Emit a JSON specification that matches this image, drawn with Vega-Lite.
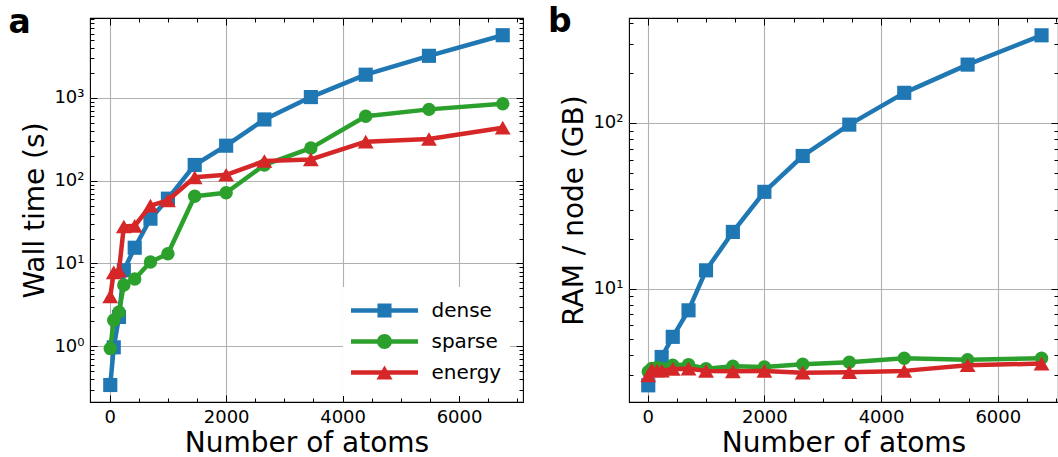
{
  "$schema": "https://vega.github.io/schema/vega-lite/v6.json",
  "padding": {"left": 7, "top": 4, "right": 0, "bottom": 0},
  "bounds": "flush",
  "spacing": 106,
  "datasets": {
    "wall": [
      {"series": "dense", "atoms": 10, "value": 0.34},
      {"series": "dense", "atoms": 70, "value": 0.97},
      {"series": "dense", "atoms": 160, "value": 2.26},
      {"series": "dense", "atoms": 243, "value": 8.3},
      {"series": "dense", "atoms": 430, "value": 15.5},
      {"series": "dense", "atoms": 700, "value": 34.8},
      {"series": "dense", "atoms": 1000, "value": 60.7},
      {"series": "dense", "atoms": 1460, "value": 155},
      {"series": "dense", "atoms": 2000, "value": 265},
      {"series": "dense", "atoms": 2657, "value": 550},
      {"series": "dense", "atoms": 3455, "value": 1025},
      {"series": "dense", "atoms": 4397, "value": 1910},
      {"series": "dense", "atoms": 5483, "value": 3230},
      {"series": "dense", "atoms": 6750, "value": 5730},
      {"series": "sparse", "atoms": 10, "value": 0.94},
      {"series": "sparse", "atoms": 70, "value": 2.06},
      {"series": "sparse", "atoms": 160, "value": 2.6},
      {"series": "sparse", "atoms": 243, "value": 5.5},
      {"series": "sparse", "atoms": 430, "value": 6.5},
      {"series": "sparse", "atoms": 700, "value": 10.4},
      {"series": "sparse", "atoms": 1000, "value": 13.1},
      {"series": "sparse", "atoms": 1460, "value": 65},
      {"series": "sparse", "atoms": 2000, "value": 71.6},
      {"series": "sparse", "atoms": 2657, "value": 155},
      {"series": "sparse", "atoms": 3455, "value": 248},
      {"series": "sparse", "atoms": 4397, "value": 600},
      {"series": "sparse", "atoms": 5483, "value": 728},
      {"series": "sparse", "atoms": 6750, "value": 850},
      {"series": "energy", "atoms": 10, "value": 4.0},
      {"series": "energy", "atoms": 70, "value": 7.8},
      {"series": "energy", "atoms": 160, "value": 8.2},
      {"series": "energy", "atoms": 243, "value": 28},
      {"series": "energy", "atoms": 430, "value": 28.5},
      {"series": "energy", "atoms": 700, "value": 50},
      {"series": "energy", "atoms": 1000, "value": 58},
      {"series": "energy", "atoms": 1460, "value": 110},
      {"series": "energy", "atoms": 2000, "value": 118},
      {"series": "energy", "atoms": 2657, "value": 173},
      {"series": "energy", "atoms": 3455, "value": 181},
      {"series": "energy", "atoms": 4397, "value": 296},
      {"series": "energy", "atoms": 5483, "value": 319},
      {"series": "energy", "atoms": 6750, "value": 437}
    ],
    "ram": [
      {"series": "dense", "atoms": 10, "value": 2.61},
      {"series": "dense", "atoms": 240, "value": 3.87},
      {"series": "dense", "atoms": 430, "value": 5.12},
      {"series": "dense", "atoms": 700, "value": 7.4},
      {"series": "dense", "atoms": 1000, "value": 12.9},
      {"series": "dense", "atoms": 1460, "value": 22.0},
      {"series": "dense", "atoms": 2000, "value": 38.4},
      {"series": "dense", "atoms": 2657, "value": 63.2},
      {"series": "dense", "atoms": 3455, "value": 97.7},
      {"series": "dense", "atoms": 4397, "value": 152},
      {"series": "dense", "atoms": 5483, "value": 225},
      {"series": "dense", "atoms": 6750, "value": 338},
      {"series": "sparse", "atoms": 10, "value": 3.15},
      {"series": "sparse", "atoms": 70, "value": 3.3},
      {"series": "sparse", "atoms": 160, "value": 3.35},
      {"series": "sparse", "atoms": 243, "value": 3.3},
      {"series": "sparse", "atoms": 430, "value": 3.45},
      {"series": "sparse", "atoms": 700, "value": 3.48},
      {"series": "sparse", "atoms": 1000, "value": 3.29},
      {"series": "sparse", "atoms": 1460, "value": 3.4},
      {"series": "sparse", "atoms": 2000, "value": 3.37},
      {"series": "sparse", "atoms": 2657, "value": 3.5},
      {"series": "sparse", "atoms": 3455, "value": 3.6},
      {"series": "sparse", "atoms": 4397, "value": 3.8},
      {"series": "sparse", "atoms": 5483, "value": 3.72},
      {"series": "sparse", "atoms": 6750, "value": 3.8},
      {"series": "energy", "atoms": 10, "value": 3.0},
      {"series": "energy", "atoms": 70, "value": 3.25},
      {"series": "energy", "atoms": 160, "value": 3.2},
      {"series": "energy", "atoms": 243, "value": 3.2},
      {"series": "energy", "atoms": 430, "value": 3.28},
      {"series": "energy", "atoms": 700, "value": 3.29},
      {"series": "energy", "atoms": 1000, "value": 3.19},
      {"series": "energy", "atoms": 1460, "value": 3.17},
      {"series": "energy", "atoms": 2000, "value": 3.19},
      {"series": "energy", "atoms": 2657, "value": 3.11},
      {"series": "energy", "atoms": 3455, "value": 3.13},
      {"series": "energy", "atoms": 4397, "value": 3.19},
      {"series": "energy", "atoms": 5483, "value": 3.45},
      {"series": "energy", "atoms": 6750, "value": 3.53}
    ]
  },
  "hconcat": [
    {
      "width": 433,
      "height": 384,
      "data": {"name": "wall"},
      "resolve": {"axis": {"x": "independent", "y": "independent"}},
      "layer": [
        {
          "transform": [{"filter": "datum.series === 'dense'"}],
          "mark": {"type": "line", "strokeWidth": 4.5, "strokeJoin": "round"},
          "encoding": {
            "x": {"field": "atoms", "type": "quantitative", "scale": {"domain": [-338, 7098], "nice": false, "zero": false},
              "axis": {"orient": "bottom", "values": [0,500,1000,1500,2000,2500,3000,3500,4000,4500,5000,5500,6000,6500,7000],
                "labelExpr": "datum.value % 2000 === 0 ? '' + datum.value : ''",
                "tickSize": {"condition": {"test": "datum.value % 2000 === 0", "value": -7}, "value": -4},
                "grid": true,
                "gridOpacity": {"condition": {"test": "datum.value % 2000 === 0", "value": 1}, "value": 0},
                "labelPadding": 13, "title": "Number of atoms", "titlePadding": 0}},
            "y": {"field": "value", "type": "quantitative", "scale": {"type": "log", "domain": [0.212, 9250], "nice": false},
              "axis": {"orient": "left", "values": [0.3,0.4,0.5,0.6,0.7,0.8,0.9,1,2,3,4,5,6,7,8,9,10,20,30,40,50,60,70,80,90,100,200,300,400,500,600,700,800,900,1000,2000,3000,4000,5000,6000,7000,8000,9000],
                "labelExpr": "datum.value == 1 ? '10⁰' : datum.value == 10 ? '10¹' : datum.value == 100 ? '10²' : datum.value == 1000 ? '10³' : ''",
                "tickSize": {"condition": {"test": "datum.value == 1 || datum.value == 10 || datum.value == 100 || datum.value == 1000", "value": -7}, "value": -4},
                "grid": true,
                "gridOpacity": {"condition": {"test": "datum.value == 1 || datum.value == 10 || datum.value == 100 || datum.value == 1000", "value": 1}, "value": 0},
                "labelPadding": 13, "title": "Wall time (s)", "titlePadding": 4}},
            "color": {"field": "series", "type": "nominal",
              "scale": {"domain": ["dense", "sparse", "energy"], "range": ["#1f77b4", "#2ca02c", "#d62728"]},
              "legend": {"orient": "none", "legendX": 253, "legendY": 269, "padding": 8, "fillColor": "white", "title": null,
                "symbolSize": 4489, "symbolStrokeWidth": 0, "labelFontSize": 20, "labelFont": "DejaVu Sans", "labelColor": "black",
                "labelOffset": 13.5, "clipHeight": 31, "rowPadding": 0,
                "encode": {"symbols": {"update": {
                  "shape": {"signal": "datum.value === 'dense' ? 'M-1,-0.067H1V0.067H-1Z M-0.21,-0.21H0.21V0.21H-0.21Z' : datum.value === 'sparse' ? 'M-1,-0.067H1V0.067H-1Z M0.224,0A0.224,0.224,0,1,1,-0.224,0A0.224,0.224,0,1,1,0.224,0Z' : 'M-1,-0.067H1V0.067H-1Z M0,-0.21L0.24,0.21L-0.24,0.21Z'"},
                  "fill": {"signal": "datum.value === 'dense' ? '#1f77b4' : datum.value === 'sparse' ? '#2ca02c' : '#d62728'"},
                  "stroke": {"value": "transparent"},
                  "size": {"value": 4489}}}}}}
          }
        },
        {
          "transform": [{"filter": "datum.series === 'dense'"}],
          "mark": {"type": "point", "shape": "square", "filled": true, "size": 200, "opacity": 1, "color": "#1f77b4", "strokeWidth": 0},
          "encoding": {
            "x": {"field": "atoms", "type": "quantitative", "scale": {"domain": [-338, 7098], "nice": false, "zero": false},
              "axis": {"orient": "top", "values": [0,500,1000,1500,2000,2500,3000,3500,4000,4500,5000,5500,6000,6500,7000],
                "labels": false, "grid": false,
                "title": "a", "titleX": -82, "titleY": 14, "titleAlign": "left", "titleBaseline": "alphabetic", "titleAngle": 0,
                "titleFontSize": 33, "titleFontWeight": "bold", "titlePadding": 0,
                "tickSize": {"condition": {"test": "datum.value % 2000 === 0", "value": -7}, "value": -4}}},
            "y": {"field": "value", "type": "quantitative", "scale": {"type": "log", "domain": [0.212, 9250], "nice": false},
              "axis": {"orient": "right", "values": [0.3,0.4,0.5,0.6,0.7,0.8,0.9,1,2,3,4,5,6,7,8,9,10,20,30,40,50,60,70,80,90,100,200,300,400,500,600,700,800,900,1000,2000,3000,4000,5000,6000,7000,8000,9000],
                "labels": false, "grid": false, "title": null,
                "tickSize": {"condition": {"test": "datum.value == 1 || datum.value == 10 || datum.value == 100 || datum.value == 1000", "value": -7}, "value": -4}}}
          }
        },
        {
          "transform": [{"filter": "datum.series === 'sparse'"}],
          "mark": {"type": "line", "strokeWidth": 4.5, "strokeJoin": "round", "color": "#2ca02c"},
          "encoding": {
            "x": {"field": "atoms", "type": "quantitative", "axis": null},
            "y": {"field": "value", "type": "quantitative", "axis": null}
          }
        },
        {
          "transform": [{"filter": "datum.series === 'sparse'"}],
          "mark": {"type": "point", "shape": "circle", "filled": true, "size": 180, "opacity": 1, "color": "#2ca02c", "strokeWidth": 0},
          "encoding": {
            "x": {"field": "atoms", "type": "quantitative", "axis": null},
            "y": {"field": "value", "type": "quantitative", "axis": null}
          }
        },
        {
          "transform": [{"filter": "datum.series === 'energy'"}],
          "mark": {"type": "line", "strokeWidth": 4.5, "strokeJoin": "round", "color": "#d62728"},
          "encoding": {
            "x": {"field": "atoms", "type": "quantitative", "axis": null},
            "y": {"field": "value", "type": "quantitative", "axis": null}
          }
        },
        {
          "transform": [{"filter": "datum.series === 'energy'"}],
          "mark": {"type": "point", "shape": "triangle-up", "filled": true, "size": 250, "opacity": 1, "color": "#d62728", "strokeWidth": 0},
          "encoding": {
            "x": {"field": "atoms", "type": "quantitative", "axis": null},
            "y": {"field": "value", "type": "quantitative", "axis": null}
          }
        }
      ]
    },
    {
      "width": 429,
      "height": 384,
      "data": {"name": "ram"},
      "resolve": {"axis": {"x": "independent", "y": "independent"}},
      "layer": [
        {
          "transform": [{"filter": "datum.series === 'dense'"}],
          "mark": {"type": "line", "strokeWidth": 4.5, "strokeJoin": "round", "color": "#1f77b4"},
          "encoding": {
            "x": {"field": "atoms", "type": "quantitative", "scale": {"domain": [-320, 7032], "nice": false, "zero": false},
              "axis": {"orient": "bottom", "values": [0,500,1000,1500,2000,2500,3000,3500,4000,4500,5000,5500,6000,6500,7000],
                "labelExpr": "datum.value % 2000 === 0 ? '' + datum.value : ''",
                "tickSize": {"condition": {"test": "datum.value % 2000 === 0", "value": -7}, "value": -4},
                "grid": true,
                "gridOpacity": {"condition": {"test": "datum.value % 2000 === 0", "value": 1}, "value": 0},
                "labelPadding": 13, "title": "Number of atoms", "titlePadding": 0}},
            "y": {"field": "value", "type": "quantitative", "scale": {"type": "log", "domain": [2.07, 430], "nice": false},
              "axis": {"orient": "left", "values": [3,4,5,6,7,8,9,10,20,30,40,50,60,70,80,90,100,200,300,400],
                "labelExpr": "datum.value == 10 ? '10¹' : datum.value == 100 ? '10²' : ''",
                "tickSize": {"condition": {"test": "datum.value == 10 || datum.value == 100", "value": -7}, "value": -4},
                "grid": true,
                "gridOpacity": {"condition": {"test": "datum.value == 10 || datum.value == 100", "value": 1}, "value": 0},
                "labelPadding": 13, "title": "RAM / node (GB)", "titlePadding": 4}}
          }
        },
        {
          "transform": [{"filter": "datum.series === 'dense'"}],
          "mark": {"type": "point", "shape": "square", "filled": true, "size": 200, "opacity": 1, "color": "#1f77b4", "strokeWidth": 0},
          "encoding": {
            "x": {"field": "atoms", "type": "quantitative", "scale": {"domain": [-320, 7032], "nice": false, "zero": false},
              "axis": {"orient": "top", "values": [0,500,1000,1500,2000,2500,3000,3500,4000,4500,5000,5500,6000,6500,7000],
                "labels": false, "grid": false,
                "title": "b", "titleX": -81.5, "titleY": 13.3, "titleAlign": "left", "titleBaseline": "alphabetic", "titleAngle": 0,
                "titleFontSize": 33, "titleFontWeight": "bold", "titlePadding": 0,
                "tickSize": {"condition": {"test": "datum.value % 2000 === 0", "value": -7}, "value": -4}}},
            "y": {"field": "value", "type": "quantitative", "scale": {"type": "log", "domain": [2.07, 430], "nice": false},
              "axis": {"orient": "right", "values": [3,4,5,6,7,8,9,10,20,30,40,50,60,70,80,90,100,200,300,400],
                "labels": false, "grid": false, "title": null,
                "tickSize": {"condition": {"test": "datum.value == 10 || datum.value == 100", "value": -7}, "value": -4}}}
          }
        },
        {
          "transform": [{"filter": "datum.series === 'sparse'"}],
          "mark": {"type": "line", "strokeWidth": 4.5, "strokeJoin": "round", "color": "#2ca02c"},
          "encoding": {
            "x": {"field": "atoms", "type": "quantitative", "axis": null},
            "y": {"field": "value", "type": "quantitative", "axis": null}
          }
        },
        {
          "transform": [{"filter": "datum.series === 'sparse'"}],
          "mark": {"type": "point", "shape": "circle", "filled": true, "size": 180, "opacity": 1, "color": "#2ca02c", "strokeWidth": 0},
          "encoding": {
            "x": {"field": "atoms", "type": "quantitative", "axis": null},
            "y": {"field": "value", "type": "quantitative", "axis": null}
          }
        },
        {
          "transform": [{"filter": "datum.series === 'energy'"}],
          "mark": {"type": "line", "strokeWidth": 4.5, "strokeJoin": "round", "color": "#d62728"},
          "encoding": {
            "x": {"field": "atoms", "type": "quantitative", "axis": null},
            "y": {"field": "value", "type": "quantitative", "axis": null}
          }
        },
        {
          "transform": [{"filter": "datum.series === 'energy'"}],
          "mark": {"type": "point", "shape": "triangle-up", "filled": true, "size": 250, "opacity": 1, "color": "#d62728", "strokeWidth": 0},
          "encoding": {
            "x": {"field": "atoms", "type": "quantitative", "axis": null},
            "y": {"field": "value", "type": "quantitative", "axis": null}
          }
        }
      ]
    }
  ],
  "config": {
    "font": "DejaVu Sans",
    "view": {"stroke": "black", "strokeWidth": 1.1},
    "title": {"font": "DejaVu Sans", "color": "black"},
    "axis": {"domain": false, "labelFont": "DejaVu Sans", "labelFontSize": 18, "labelColor": "black",
      "titleFont": "DejaVu Sans", "titleFontSize": 28, "titleFontWeight": "normal", "titleColor": "black",
      "tickColor": "black", "tickWidth": 1, "gridColor": "#b0b0b0", "gridWidth": 1.1,
      "labelFlush": false, "labelOverlap": false}
  }
}
